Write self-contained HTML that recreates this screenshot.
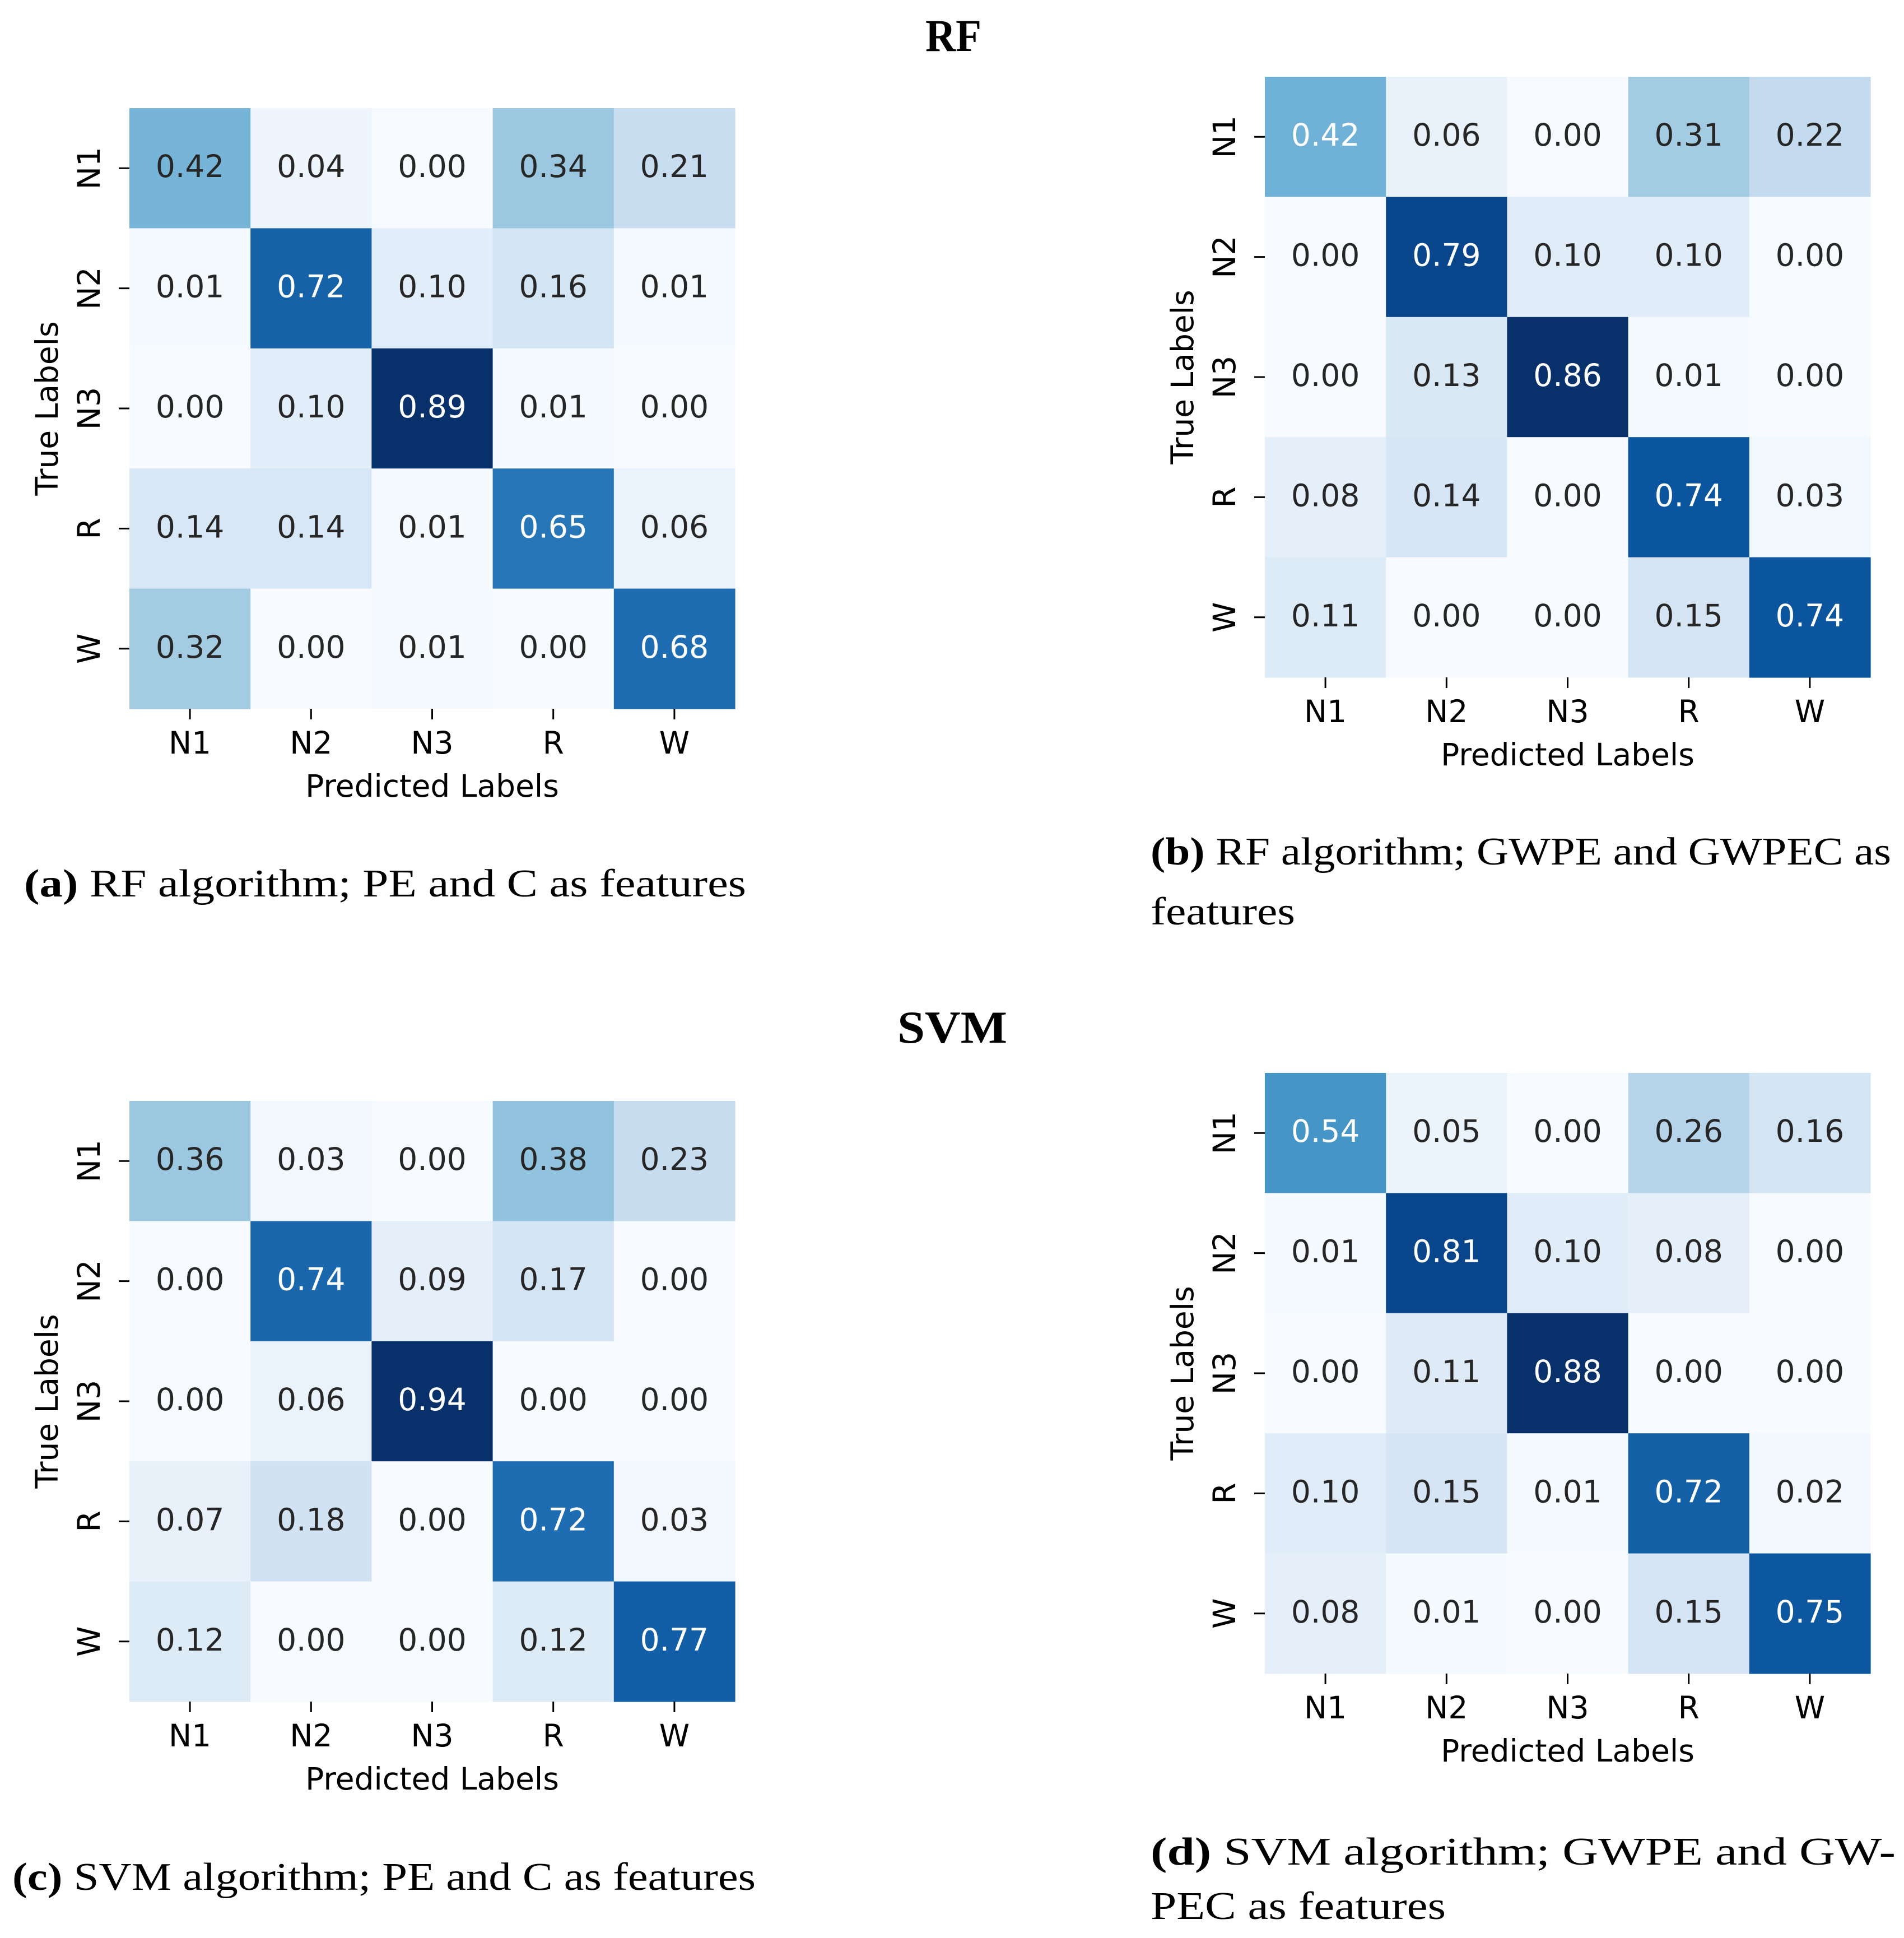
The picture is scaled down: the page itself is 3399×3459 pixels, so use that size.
<!DOCTYPE html>
<html><head><meta charset="utf-8">
<style>
html,body{margin:0;padding:0;background:#fff;}
svg{display:block;}
.tk{font-family:"DejaVu Sans","Liberation Sans",sans-serif;font-size:55px;fill:#000;}
.ann{font-family:"DejaVu Sans","Liberation Sans",sans-serif;font-size:55px;}
.cap{font-family:"Liberation Serif",serif;font-size:70px;fill:#000;}
.ttl{font-family:"Liberation Serif",serif;font-size:82px;font-weight:bold;fill:#000;}
</style></head>
<body>
<svg id="fig" width="3399" height="3459" viewBox="0 0 3399 3459" xmlns="http://www.w3.org/2000/svg">
<text class="ttl" x="1702" y="91" text-anchor="middle" textLength="100" lengthAdjust="spacingAndGlyphs">RF</text>
<text class="ttl" x="1700" y="1861" text-anchor="middle" textLength="196" lengthAdjust="spacingAndGlyphs">SVM</text>

<text class="cap" x="43" y="1600" textLength="1289" lengthAdjust="spacingAndGlyphs"><tspan font-weight="bold">(a)</tspan> RF algorithm; PE  and C  as features</text>
<text class="cap" x="2054" y="1543" textLength="1322" lengthAdjust="spacingAndGlyphs"><tspan font-weight="bold">(b)</tspan> RF algorithm; GWPE  and GWPEC as</text>
<text class="cap" x="2054" y="1650" textLength="258" lengthAdjust="spacingAndGlyphs">features</text>
<text class="cap" x="22" y="3373" textLength="1327" lengthAdjust="spacingAndGlyphs"><tspan font-weight="bold">(c)</tspan> SVM algorithm; PE  and C  as features</text>
<text class="cap" x="2054" y="3328" textLength="1330" lengthAdjust="spacingAndGlyphs"><tspan font-weight="bold">(d)</tspan> SVM  algorithm;  GWPE   and  GW-</text>
<text class="cap" x="2054" y="3425" textLength="527" lengthAdjust="spacingAndGlyphs">PEC  as features</text>
</svg>
<script>
const labels = ["N1","N2","N3","R","W"];
const matA = [[0.42,0.04,0.00,0.34,0.21],[0.01,0.72,0.10,0.16,0.01],[0.00,0.10,0.89,0.01,0.00],[0.14,0.14,0.01,0.65,0.06],[0.32,0.00,0.01,0.00,0.68]];
const matB = [[0.42,0.06,0.00,0.31,0.22],[0.00,0.79,0.10,0.10,0.00],[0.00,0.13,0.86,0.01,0.00],[0.08,0.14,0.00,0.74,0.03],[0.11,0.00,0.00,0.15,0.74]];
const matC = [[0.36,0.03,0.00,0.38,0.23],[0.00,0.74,0.09,0.17,0.00],[0.00,0.06,0.94,0.00,0.00],[0.07,0.18,0.00,0.72,0.03],[0.12,0.00,0.00,0.12,0.77]];
const matD = [[0.54,0.05,0.00,0.26,0.16],[0.01,0.81,0.10,0.08,0.00],[0.00,0.11,0.88,0.00,0.00],[0.10,0.15,0.01,0.72,0.02],[0.08,0.01,0.00,0.15,0.75]];

const NS = "http://www.w3.org/2000/svg";
const svg = document.getElementById("fig");
const blues = [[247,251,255],[222,235,247],[198,219,239],[158,202,225],[107,174,214],[66,146,198],[33,113,181],[8,81,156],[8,48,107]];
function cmap(t){
  t=Math.max(0,Math.min(1,t));
  const p=t*8, i=Math.min(7,Math.floor(p)), f=p-i;
  const a=blues[i], b=blues[i+1];
  return "rgb("+a.map((v,k)=>Math.round(v+(b[k]-v)*f)).join(",")+")";
}
function mk(tag, attrs, parent){
  const e=document.createElementNS(NS,tag);
  for(const k in attrs) e.setAttribute(k,attrs[k]);
  parent.appendChild(e); return e;
}
function heatmap(id, mat, x0, y0){
  const W=1081, H=1072, cw=W/5, ch=H/5;
  const g=mk("g",{},svg);
  
  
  let vmax=0; mat.forEach(r=>r.forEach(v=>{if(v>vmax)vmax=v;}));
  const xs=j=>x0+j*cw, ys=i=>y0+i*ch;
  mat.forEach((row,i)=>row.forEach((v,j)=>{
    const t=v/vmax;
    const r=mk("rect",{x:xs(j),y:ys(i),width:cw+0.6,height:ch+0.6,fill:cmap(t)},g);
    
    
    const tx=mk("text",{x:xs(j)+cw/2,y:ys(i)+ch/2+16,"text-anchor":"middle","class":"ann",fill:t>0.48?"#ffffff":"#262626"},g);
    tx.textContent=v.toFixed(2);
    
    
  }));
  labels.forEach((l,k)=>{
    const cx=xs(k)+cw/2;
    mk("line",{x1:cx,y1:y0+H,x2:cx,y2:y0+H+19,stroke:"#000","stroke-width":3},g);
    const t=mk("text",{x:cx,y:y0+H+80,"text-anchor":"middle","class":"tk"},g);
    t.textContent=l;
    
    
    const cy=ys(k)+ch/2;
    mk("line",{x1:x0-19,y1:cy,x2:x0,y2:cy,stroke:"#000","stroke-width":3},g);
    const ty=mk("text",{x:0,y:0,"text-anchor":"middle","class":"tk",transform:"translate("+(x0-53)+","+cy+") rotate(-90)"},g);
    ty.textContent=l;
    
    
  });
  const xl=mk("text",{x:x0+W/2,y:y0+H+157,"text-anchor":"middle","class":"tk"},g);
  xl.textContent="Predicted Labels";
  
  
  const yl=mk("text",{x:0,y:0,"text-anchor":"middle","class":"tk",transform:"translate("+(x0-128)+","+(y0+H/2)+") rotate(-90)"},g);
  yl.textContent="True Labels";
  
  
}
heatmap("a", matA, 231, 193);
heatmap("b", matB, 2258, 137);
heatmap("c", matC, 231, 1965);
heatmap("d", matD, 2258, 1915);
</script>
</body></html>
